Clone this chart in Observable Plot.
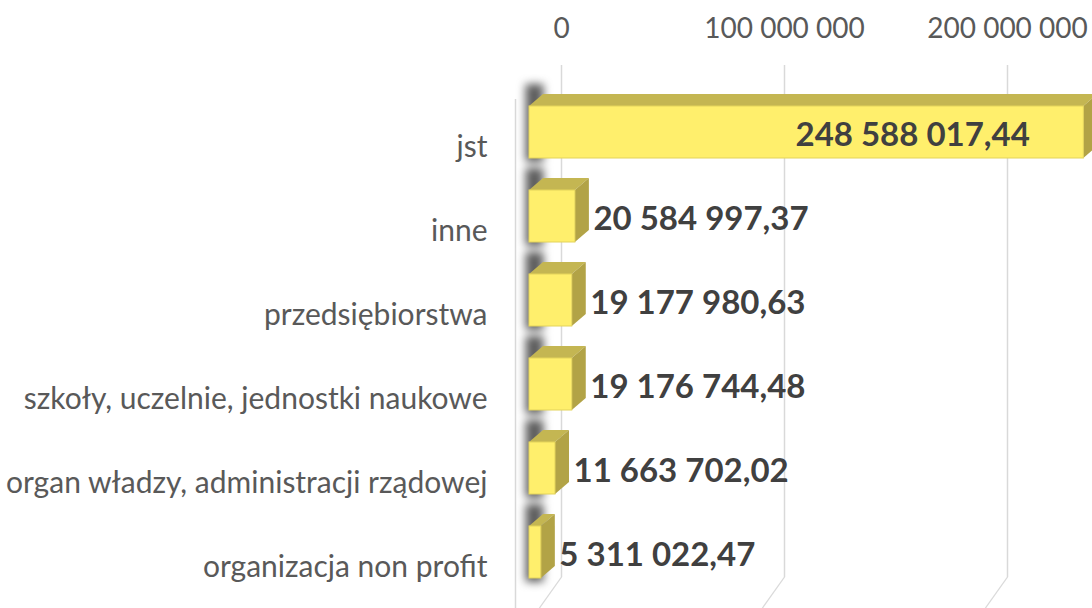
<!DOCTYPE html>
<html><head><meta charset="utf-8">
<script src="https://cdn.jsdelivr.net/npm/d3@7"></script>
<script src="https://cdn.jsdelivr.net/npm/@observablehq/plot@0.6"></script>
<style>
body{margin:0;background:#fff;}
#chart svg{display:block;}
g[fill="#c4b652"] rect{transform-box:fill-box;transform-origin:0% 100%;transform:skewX(-49.4deg);}
g[fill="#b2a346"] rect{transform-box:fill-box;transform-origin:0% 0%;transform:skewY(-40.6deg);}
g[stroke="#dadada"] line{transform-box:fill-box;transform-origin:0% 0%;transform:skewX(-35.4deg);}
g[stroke="#4d4d4d"]{filter:blur(4px);}
</style>
</head><body><div id="chart"></div>
<script>
const categories = ["jst", "inne", "przedsiębiorstwa", "szkoły, uczelnie, jednostki naukowe", "organ władzy, administracji rządowej", "organizacja non profit"];
const values = [248588017.44, 20584997.37, 19177980.63, 19176744.48, 11663702.02, 5311022.47];
const tickValues = [0, 100000000, 200000000];

const data = categories.map((c, i) => ({cat: c, value: values[i]}));
const pl = d3.formatLocale({decimal: ",", thousands: " ", grouping: [3], currency: ["", ""]});
const fmtVal = pl.format(",.2f");
const fmtTick = pl.format(",d");
const FONT = "Lato, 'Open Sans', sans-serif";

const plot = Plot.plot({
  width: 1092,
  height: 608,
  marginLeft: 529,
  marginRight: 5.5,
  marginTop: 65,
  marginBottom: 31,
  style: {fontFamily: FONT, background: "#fff"},
  x: {domain: [0, 250000000], axis: null},
  y: {domain: categories, range: [72.5, 612], padding: 0.385, axis: null},
  marks: [
    Plot.ruleX(tickValues, {x: d => d, dx: 32, stroke: "#d9d9d9", strokeWidth: 1.5}),
    Plot.ruleX(tickValues, {x: d => d, dx: 32, dy: 31, insetTop: 481, stroke: "#dadada", strokeWidth: 1.5}),
    Plot.ruleX([0], {x: d => d, dx: -14, insetTop: 34, insetBottom: -31, stroke: "#d9d9d9", strokeWidth: 1.5}),
    Plot.tickX(data, {x: () => 0, y: "cat", dx: 5, insetTop: -22, insetBottom: -4, stroke: "#4d4d4d", strokeWidth: 18, strokeOpacity: 0.9}),
    Plot.barX(data, {x1: () => 0, x2: "value", y: "cat", insetBottom: 40, dy: -12, fill: "#c4b652"}),
    Plot.barX(data, {x1: "value", x2: "value", y: "cat", insetRight: -14, fill: "#b2a346"}),
    Plot.barX(data, {x1: () => 0, x2: "value", y: "cat", fill: "#ffef6c", stroke: "#e3d35a", strokeWidth: 1}),
    Plot.text(data.filter(d => d.value < 200000000), {x: "value", y: "cat", text: d => fmtVal(d.value), textAnchor: "start", dx: 18, dy: 3, fontWeight: "bold", fontSize: 33, fill: "#404040"}),
    Plot.text(data.filter(d => d.value >= 200000000), {x: "value", y: "cat", text: d => fmtVal(d.value), textAnchor: "end", dx: -54, dy: 3, fontWeight: "bold", fontSize: 33, fill: "#404040"}),
    Plot.text(data, {x: () => 0, y: "cat", text: "cat", textAnchor: "end", dx: -42, dy: 15, fontSize: 30, fill: "#595959"}),
    Plot.text(tickValues, {x: d => d, text: d => fmtTick(d), frameAnchor: "top", lineAnchor: "middle", dx: 32, dy: -36, fontSize: 28, fill: "#595959"})
  ]
});
document.getElementById("chart").appendChild(plot);
</script>
</body></html>
